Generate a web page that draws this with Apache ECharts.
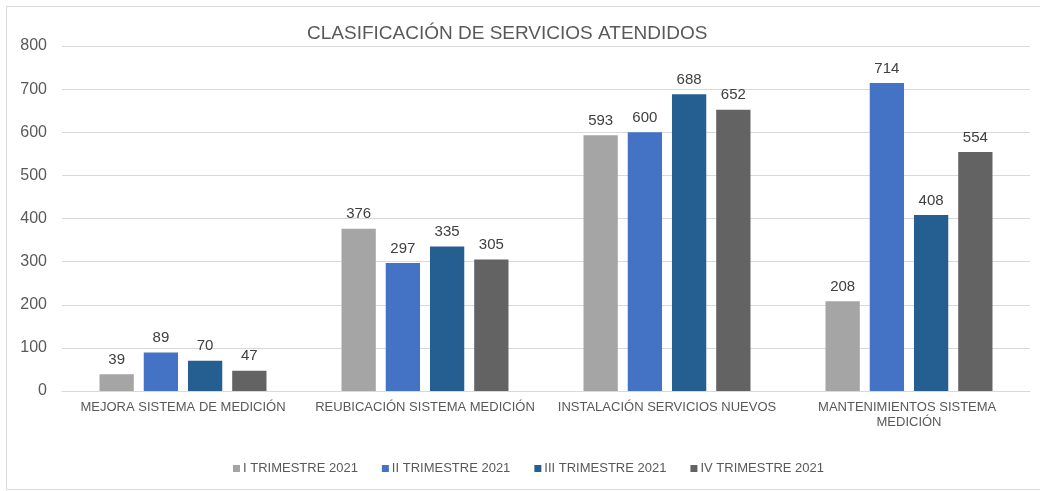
<!DOCTYPE html>
<html>
<head>
<meta charset="utf-8">
<script src="https://cdn.jsdelivr.net/npm/echarts@6/dist/echarts.min.js"></script>
<style>
    html, body { margin: 0; padding: 0; background: #fff; }
    #main { width: 1040px; height: 491px; }
</style>
</head>
<body>
<div id="main"></div>
<script>
    var categorias = ['MEJORA SISTEMA DE MEDICIÓN', 'REUBICACIÓN SISTEMA MEDICIÓN', 'INSTALACIÓN SERVICIOS NUEVOS', 'MANTENIMIENTOS SISTEMA MEDICIÓN'];
    var trimestre1 = [39, 376, 593, 208];
    var trimestre2 = [89, 297, 600, 714];
    var trimestre3 = [70, 335, 688, 408];
    var trimestre4 = [47, 305, 652, 554];
    var nombres = ['I TRIMESTRE 2021', 'II TRIMESTRE 2021', 'III TRIMESTRE 2021', 'IV TRIMESTRE 2021'];
    var colores = ['#a5a5a5', '#4472c4', '#255e91', '#636363'];

    var fuente = '"Liberation Sans", Arial, sans-serif';

    function serie(i, datos) {
        return {
            name: nombres[i],
            type: 'bar',
            data: datos,
            barGap: '29%',
            barCategoryGap: '31%',
            itemStyle: { color: colores[i] },
            label: {
                show: true,
                position: 'top',
                distance: 7,
                color: '#404040',
                fontSize: 15,
                fontFamily: fuente
            }
        };
    }

    var myChart = echarts.init(document.getElementById('main'));
    var option = {
        backgroundColor: '#fff',
        animation: false,
        color: colores,
        graphic: [{
            type: 'rect',
            shape: { x: 6.5, y: 6.5, width: 1100, height: 483 },
            style: { fill: 'none', stroke: '#d9d9d9', lineWidth: 1 },
            silent: true
        }],
        title: {
            text: 'CLASIFICACIÓN DE SERVICIOS ATENDIDOS',
            left: 307,
            top: 24,
            padding: 0,
            textStyle: {
                color: '#595959',
                fontSize: 19,
                fontWeight: 'normal',
                fontFamily: fuente
            }
        },
        legend: {
            data: nombres,
            top: 457,
            left: 228,
            itemWidth: 7,
            itemHeight: 7,
            itemGap: 24,
            icon: 'rect',
            textStyle: {
                color: '#595959',
                fontSize: 13,
                fontFamily: fuente,
                padding: [0, 0, 0, -2]
            }
        },
        grid: {
            left: 62,
            right: 10,
            top: 46,
            bottom: 100
        },
        xAxis: {
            type: 'category',
            data: categorias,
            axisLine: { lineStyle: { color: '#d9d9d9' } },
            axisTick: { show: false },
            axisLabel: {
                interval: 0,
                color: '#595959',
                fontSize: 13,
                fontFamily: fuente,
                margin: 9,
                width: 232,
                overflow: 'break',
                lineHeight: 15
            }
        },
        yAxis: {
            type: 'value',
            min: 0,
            max: 800,
            interval: 100,
            axisLine: { show: false },
            axisTick: { show: false },
            splitLine: { lineStyle: { color: '#d9d9d9', width: 1 } },
            axisLabel: {
                color: '#595959',
                fontSize: 16,
                fontFamily: fuente,
                margin: 15
            }
        },
        series: [
            serie(0, trimestre1),
            serie(1, trimestre2),
            serie(2, trimestre3),
            serie(3, trimestre4)
        ]
    };
    myChart.setOption(option);
</script>
</body>
</html>
